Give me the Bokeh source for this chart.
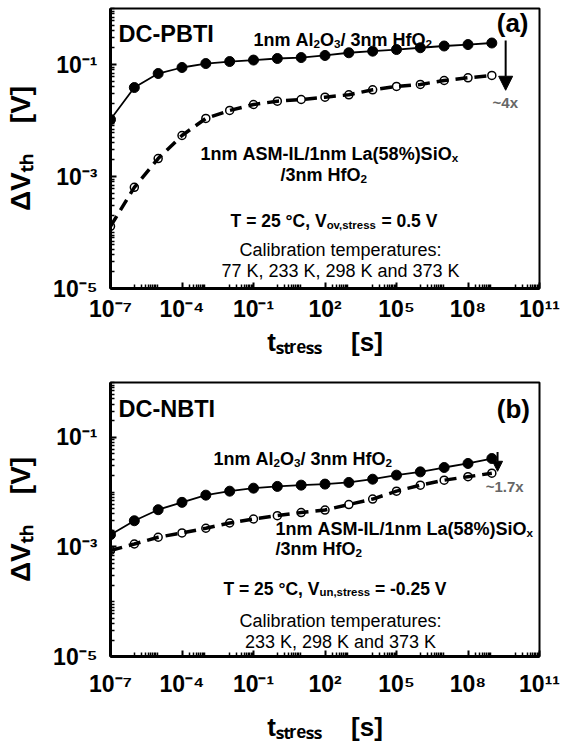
from bokeh.embed import file_html
from bokeh.layouts import column
from bokeh.models import Arrow, FixedTicker, Label, NormalHead, Range1d
from bokeh.plotting import figure
from bokeh.resources import INLINE

# ---------------------------------------------------------------- data
t_stress = [1e-7, 1e-6, 1e-5, 1e-4, 1e-3, 1e-2, 1e-1, 1e0, 1e1,
            1e2, 1e3, 1e4, 1e5, 1e6, 1e7, 1e8, 1e9]

# DC-PBTI, 1nm Al2O3 / 3nm HfO2 (filled) and ASM-IL / La(58%)SiOx / HfO2 (open)
pbti_al2o3 = [0.0104, 0.0388, 0.069, 0.0884, 0.104, 0.113, 0.120, 0.128, 0.133,
              0.145, 0.162, 0.173, 0.185, 0.199, 0.214, 0.227, 0.242]
pbti_lasio = [1.29e-4, 6.4e-4, 2.09e-3, 5.4e-3, 0.0109, 0.0151, 0.0193, 0.0221, 0.0237,
              0.0261, 0.0288, 0.0353, 0.0405, 0.044, 0.0518, 0.0579, 0.0637]

# DC-NBTI, same two gate stacks
nbti_al2o3 = [1.67e-3, 3.0e-3, 4.77e-3, 6.5e-3, 8.8e-3, 0.0104, 0.0118, 0.0127, 0.0134,
              0.0140, 0.0150, 0.0172, 0.0204, 0.0234, 0.0281, 0.0333, 0.041]
nbti_lasio = [8.6e-4, 1.13e-3, 1.5e-3, 1.8e-3, 2.19e-3, 2.73e-3, 3.23e-3, 3.72e-3, 4.24e-3,
              4.71e-3, 5.93e-3, 7.46e-3, 0.0104, 0.0134, 0.0165, 0.0191, 0.0221]

x_ticks = [1e-7, 1e-4, 1e-1, 1e2, 1e5, 1e8, 1e11]
x_tick_labels = ["10⁻⁷", "10⁻⁴", "10⁻¹", "10²", "10⁵", "10⁸", "10¹¹"]
y_ticks = [1e-5, 1e-3, 1e-1]
y_tick_labels = ["10⁻⁵", "10⁻³", "10⁻¹"]

NBSP = "\u00a0"
x_title = "tₛₜᵣₑₛₛ" + NBSP * 4 + "[s]"
y_title = "ΔVₜₕ" + NBSP * 4 + "[V]"

FONT = "Liberation Sans"

# Arial / Liberation Sans advance widths (1/1000 em) used to lay out rich text
BOLD_W = {' ': 278, '%': 889, '(': 333, ')': 333, ',': 278, '-': 333, '.': 278,
          '/': 278, ':': 333, '=': 584, '[': 333, ']': 333, '~': 584, '°': 400,
          'A': 722, 'B': 722, 'C': 722, 'D': 722, 'H': 722, 'I': 278, 'L': 611,
          'M': 833, 'N': 722, 'O': 778, 'P': 667, 'S': 667, 'T': 611, 'V': 667,
          'a': 556, 'e': 556, 'f': 333, 'h': 611, 'i': 278, 'l': 278, 'm': 889,
          'n': 611, 'o': 611, 'r': 389, 's': 556, 't': 333, 'u': 611, 'v': 556,
          'x': 556}
REG_W = {' ': 278, ',': 278, ':': 278, 'C': 722, 'K': 667, 'a': 556, 'b': 556,
         'd': 556, 'e': 556, 'i': 222, 'l': 222, 'm': 833, 'n': 556, 'o': 556,
         'p': 556, 'r': 333, 's': 500, 't': 278, 'u': 556}


def text_width(s, size, bold=True):
    table = BOLD_W if bold else REG_W
    return sum(table.get(ch, 556) for ch in s) * size / 1000.0


def rich_label(p, x, y, parts, size, bold=True, align="left", dx=0.0, dy=0.0,
               color="black", script_ratio=0.65, sub_shift=0.22):
    """Draw text made of normal (0) and subscript (-1) runs."""
    sizes = [size * script_ratio if lvl else size for _, lvl in parts]
    widths = [text_width(s, fs, bold) for (s, _), fs in zip(parts, sizes)]
    total = sum(widths)
    pos = {"left": 0.0, "center": -total / 2.0, "right": -total}[align]
    for (s, lvl), fs, w in zip(parts, sizes, widths):
        shift = -sub_shift * size if lvl else 0.0
        # non-breaking spaces keep leading / trailing blanks in the SVG text
        p.add_layout(Label(x=x, y=y, x_offset=dx + pos, y_offset=dy + shift,
                           text=s.replace(" ", NBSP),
                           text_font=FONT, text_font_size=f"{fs:.1f}px",
                           text_font_style="bold" if bold else "normal",
                           text_color=color, text_align="left",
                           text_baseline="alphabetic"))
        pos += w


def make_panel(top, bottom, x_label_standoff, x_title_standoff):
    p = figure(width=569, height=372, x_axis_type="log", y_axis_type="log",
               x_range=Range1d(1e-7, 1e11), y_range=Range1d(1e-5, 1.0),
               output_backend="svg", toolbar_location=None,
               min_border_left=110, min_border_right=30,
               min_border_top=top, min_border_bottom=bottom,
               background_fill_color="white", border_fill_color="white")
    p.xgrid.visible = False
    p.ygrid.visible = False
    p.outline_line_color = "black"
    p.outline_line_width = 2

    x_minor = [m * 10.0 ** k for k in range(-6, 11, 2) for m in range(1, 10)
               if m * 10.0 ** k not in x_ticks]
    y_minor = [m * 10.0 ** k for k in range(-5, 0) for m in range(1, 10)
               if m * 10.0 ** k not in y_ticks] + [1.0]
    p.xaxis.ticker = FixedTicker(ticks=x_ticks, minor_ticks=x_minor)
    p.yaxis.ticker = FixedTicker(ticks=y_ticks, minor_ticks=y_minor)
    p.xaxis.major_label_overrides = dict(zip(x_ticks, x_tick_labels))
    p.yaxis.major_label_overrides = dict(zip(y_ticks, y_tick_labels))

    for ax in (p.xaxis, p.yaxis):
        ax.axis_line_width = 3
        ax.axis_line_color = "black"
        ax.major_tick_in = 6
        ax.major_tick_out = 0
        ax.minor_tick_in = 4
        ax.minor_tick_out = 0
        ax.major_tick_line_width = 2
        ax.minor_tick_line_width = 1.5
        ax.major_tick_line_color = "black"
        ax.minor_tick_line_color = "black"
        ax.major_label_text_font = FONT
        ax.major_label_text_font_style = "bold"
        ax.major_label_text_font_size = "23px"
        ax.major_label_text_color = "black"
        ax.axis_label_text_font = FONT
        ax.axis_label_text_font_style = "bold"
        ax.axis_label_text_color = "black"

    p.xaxis.major_label_standoff = x_label_standoff
    p.yaxis.major_label_standoff = 13
    p.xaxis.axis_label = x_title
    p.xaxis.axis_label_text_font_size = "26px"
    p.xaxis.axis_label_standoff = x_title_standoff
    p.yaxis.axis_label = y_title
    p.yaxis.axis_label_text_font_size = "28px"
    p.yaxis.axis_label_standoff = 14
    return p


def draw_series(p, filled, opened):
    p.line(t_stress, filled, line_color="black", line_width=1.8)
    p.scatter(t_stress, filled, size=10, fill_color="black", line_color="black")
    p.scatter(t_stress, opened, size=8, fill_color="white", line_color="black",
              line_width=1.5)
    p.line(t_stress, opened, line_color="black", line_width=3.5, line_dash="12 7")


# ---------------------------------------------------------------- (a) PBTI
pa = make_panel(8, 84, 7, 2)
draw_series(pa, pbti_al2o3, pbti_lasio)

rich_label(pa, 1e-7, 1.0, [("DC-PBTI", 0)], 23.5, dx=8, dy=-25)
rich_label(pa, 1e11, 1.0, [("(a)", 0)], 26, align="right", dx=-11, dy=-14)
rich_label(pa, 1e-1, 10 ** -0.57,
           [("1nm Al", 0), ("2", -1), ("O", 0), ("3", -1), ("/ 3nm HfO", 0), ("2", -1)], 18)
rich_label(pa, 10 ** -3.22, 10 ** -2.59, [("1nm ASM-IL/1nm La(58%)SiO", 0), ("x", -1)], 18)
rich_label(pa, 10 ** 0.13, 10 ** -2.98, [("/3nm HfO", 0), ("2", -1)], 18)
rich_label(pa, 10 ** -1.96, 10 ** -3.79,
           [("T = 25 °C, V", 0), ("ov,stress", -1), (" = 0.5 V", 0)], 17.5)
rich_label(pa, 10 ** 2.65, 10 ** -4.32, [("Calibration temperatures:", 0)], 18,
           bold=False, align="center")
rich_label(pa, 10 ** 2.65, 10 ** -4.68, [("77 K, 233 K, 298 K and 373 K", 0)], 18,
           bold=False, align="center")
pa.add_layout(Arrow(end=NormalHead(size=14, fill_color="black", line_color="black"),
                    x_start=10 ** 9.58, y_start=10 ** -0.57,
                    x_end=10 ** 9.58, y_end=10 ** -1.46,
                    line_color="black", line_width=2))
rich_label(pa, 10 ** 9.03, 10 ** -1.68, [("~4x", 0)], 15, color="#666666")

# ---------------------------------------------------------------- (b) NBTI
pb = make_panel(10, 87, 14, 12)
draw_series(pb, nbti_al2o3, nbti_lasio)

rich_label(pb, 1e-7, 1.0, [("DC-NBTI", 0)], 23.5, dx=8, dy=-26)
rich_label(pb, 1e11, 1.0, [("(b)", 0)], 26, align="right", dx=-11, dy=-26)
rich_label(pb, 10 ** -2.68, 10 ** -1.4,
           [("1nm Al", 0), ("2", -1), ("O", 0), ("3", -1), ("/ 3nm HfO", 0), ("2", -1)], 18)
rich_label(pb, 10 ** -0.08, 10 ** -2.67, [("1nm ASM-IL/1nm La(58%)SiO", 0), ("x", -1)], 18)
rich_label(pb, 10 ** -0.08, 10 ** -3.04, [("/3nm HfO", 0), ("2", -1)], 18)
rich_label(pb, 10 ** -2.26, 10 ** -3.76,
           [("T = 25 °C, V", 0), ("un,stress", -1), (" = -0.25 V", 0)], 17.5)
rich_label(pb, 10 ** 2.65, 10 ** -4.36, [("Calibration temperatures:", 0)], 18,
           bold=False, align="center")
rich_label(pb, 10 ** 2.65, 10 ** -4.73, [("233 K, 298 K and 373 K", 0)], 18,
           bold=False, align="center")
pb.add_layout(Arrow(end=NormalHead(size=10, fill_color="black", line_color="black"),
                    x_start=10 ** 9.24, y_start=10 ** -1.27,
                    x_end=10 ** 9.24, y_end=10 ** -1.62,
                    line_color="black", line_width=2))
rich_label(pb, 10 ** 8.74, 10 ** -1.89, [("~1.7x", 0)], 15, color="#666666")

layout = column(pa, pb, spacing=0)
open("out.html", "w").write(file_html(layout, INLINE))
